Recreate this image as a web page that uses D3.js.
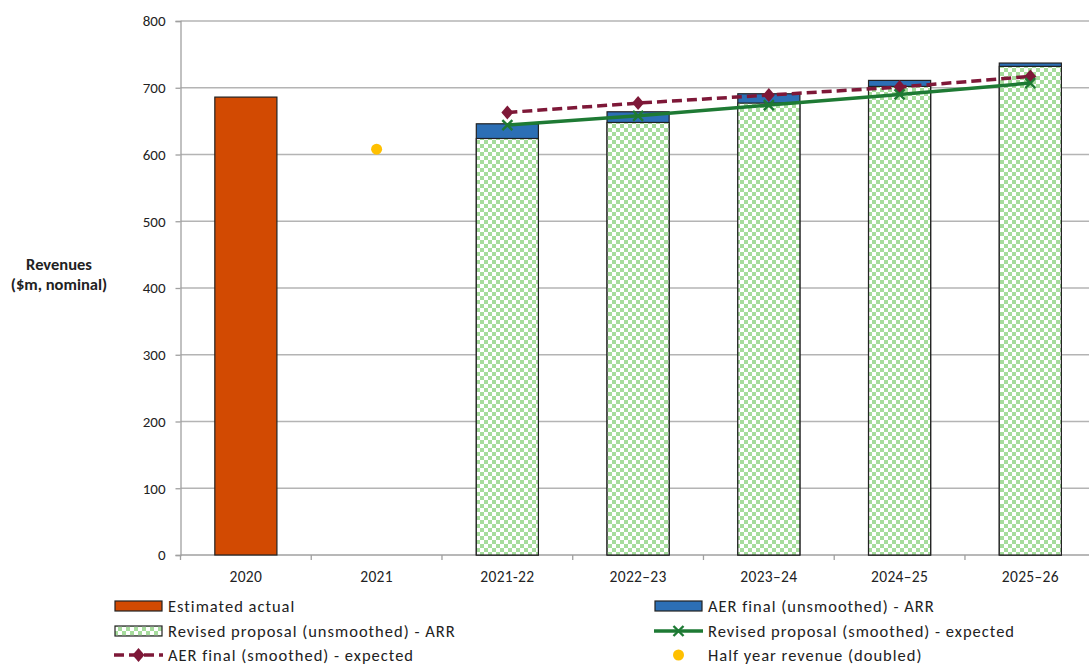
<!DOCTYPE html>
<html>
<head>
<meta charset="utf-8">
<script src="https://cdn.jsdelivr.net/npm/d3@7"></script>
<style>
  html, body { margin: 0; padding: 0; background: #fff; }
  svg { display: block; }
  text { font-family: Carlito, "Liberation Sans Narrow", "Open Sans", sans-serif; fill: #222; }
</style>
</head>
<body>
<svg id="chart" width="1089" height="664"></svg>
<script>
// Categories along the x axis
const categories = ["2020", "2021", "2021-22", "2022\u201323", "2023\u201324", "2024\u201325", "2025\u201326"];

// Estimated actual revenue ($m)
const estimatedActual = [686, null, null, null, null, null, null];
// Half year revenue, doubled
const halfYearDoubled = [null, 608, null, null, null, null, null];
// AER final (unsmoothed) ARR
const aerFinalArr = [null, null, 646, 664, 691, 711, 737];
// Revised proposal (unsmoothed) ARR
const revisedArr = [null, null, 624, 648, 677, 702, 732];
// Revised proposal (smoothed) expected revenue
const revisedSmoothed = [null, null, 644, 658, 674, 690, 707];
// AER final (smoothed) expected revenue
const aerSmoothed = [null, null, 663, 677, 689, 701, 717];

const yTicks = [0, 100, 200, 300, 400, 500, 600, 700, 800];

const colors = {
  actual: "#D24A02",
  aer: "#2C6FB5",
  revised: "#A6DC9C",
  revisedLine: "#1E7A34",
  aerLine: "#7E1838",
  half: "#FFC000",
  grid: "#B4B4B4",
  axis: "#A0A0A0"
};

const svg = d3.select("#chart");
const margin = { left: 180.5, top: 21, bottom: 555 };
const plotRight = 1095.7;

const x = d3.scaleBand().domain(categories).range([margin.left, plotRight]).padding(0);
const y = d3.scaleLinear().domain([0, 800]).range([margin.bottom, margin.top]);
const barW = x.bandwidth() * 0.475;
const cx = c => x(c) + x.bandwidth() / 2;

// marker shapes
const diamondPath = "M0,-7L6,0L0,7L-6,0Z";
const crossPath = "M-5,-5L5,5M-5,5L5,-5";

// checkerboard fill for the revised proposal bars
const defs = svg.append("defs");
const pat = defs.append("pattern")
  .attr("id", "checker").attr("patternUnits", "userSpaceOnUse")
  .attr("width", 8).attr("height", 8);
pat.append("rect").attr("width", 8).attr("height", 8).attr("fill", "#fff");
pat.append("rect").attr("width", 4).attr("height", 4).attr("fill", colors.revised);
pat.append("rect").attr("x", 4).attr("y", 4).attr("width", 4).attr("height", 4).attr("fill", colors.revised);

// gridlines
svg.append("g").selectAll("line").data(yTicks.filter(d => d > 0)).join("line")
  .attr("x1", margin.left).attr("x2", plotRight)
  .attr("y1", d => y(d)).attr("y2", d => y(d))
  .attr("stroke", colors.grid).attr("stroke-width", 1.3);

// y axis
const yAxis = svg.append("g").attr("transform", `translate(${margin.left},0)`)
  .call(d3.axisLeft(y).tickValues(yTicks).tickSize(5).tickPadding(10).tickFormat(d3.format("d")));
yAxis.select(".domain").attr("stroke", colors.axis).attr("stroke-width", 1.3);
yAxis.selectAll(".tick line").attr("stroke", colors.axis).attr("stroke-width", 1.3);
yAxis.selectAll("text").style("font-size", "15px").style("font-family", "Carlito, 'Liberation Sans', sans-serif").attr("fill", "#222");

// x axis with ticks at category boundaries
const xAxisG = svg.append("g");
xAxisG.append("line").attr("x1", margin.left).attr("x2", plotRight)
  .attr("y1", y(0)).attr("y2", y(0)).attr("stroke", colors.axis).attr("stroke-width", 1.3);
xAxisG.selectAll("line.tk").data(categories.concat(["__end"])).join("line").attr("class", "tk")
  .attr("x1", (d, i) => margin.left + i * x.step()).attr("x2", (d, i) => margin.left + i * x.step())
  .attr("y1", y(0)).attr("y2", y(0) + 5).attr("stroke", colors.axis).attr("stroke-width", 1.3);
xAxisG.selectAll("text").data(categories).join("text")
  .attr("x", d => cx(d)).attr("y", y(0) + 27).attr("text-anchor", "middle")
  .style("font-size", "15.5px").style("letter-spacing", "0.3px").text(d => d);

// estimated actual bar
svg.append("g").selectAll("rect").data(categories.map((c, i) => ({ c, v: estimatedActual[i] })).filter(d => d.v != null))
  .join("rect")
  .attr("x", d => cx(d.c) - barW / 2).attr("width", barW)
  .attr("y", d => y(d.v)).attr("height", d => y(0) - y(d.v))
  .attr("fill", colors.actual).attr("stroke", "#222").attr("stroke-width", 1.2);

// AER final ARR bars, with the revised proposal overlapped in front
const arrData = categories.map((c, i) => ({ c, aer: aerFinalArr[i], rev: revisedArr[i] })).filter(d => d.aer != null);
svg.append("g").selectAll("rect").data(arrData).join("rect")
  .attr("x", d => cx(d.c) - barW / 2).attr("width", barW)
  .attr("y", d => y(d.aer)).attr("height", d => y(0) - y(d.aer))
  .attr("fill", colors.aer).attr("stroke", "#222").attr("stroke-width", 1.2);
svg.append("g").selectAll("rect").data(arrData).join("rect")
  .attr("x", d => cx(d.c) - barW / 2).attr("width", barW)
  .attr("y", d => y(d.rev)).attr("height", d => y(0) - y(d.rev))
  .attr("fill", "url(#checker)").attr("stroke", "#222").attr("stroke-width", 1.2);

// half year point
svg.append("g").selectAll("circle").data(categories.map((c, i) => ({ c, v: halfYearDoubled[i] })).filter(d => d.v != null))
  .join("circle").attr("cx", d => cx(d.c)).attr("cy", d => y(d.v)).attr("r", 5.5).attr("fill", colors.half);

// smoothed lines
const line = d3.line().x(d => cx(d.c)).y(d => y(d.v));
const aerPts = categories.map((c, i) => ({ c, v: aerSmoothed[i] })).filter(d => d.v != null);
const revPts = categories.map((c, i) => ({ c, v: revisedSmoothed[i] })).filter(d => d.v != null);

svg.append("path").datum(aerPts).attr("d", line).attr("fill", "none")
  .attr("stroke", colors.aerLine).attr("stroke-width", 3.5).attr("stroke-dasharray", "10,5");
svg.append("g").selectAll("path").data(aerPts).join("path")
  .attr("d", diamondPath).attr("transform", d => `translate(${cx(d.c)},${y(d.v)})`)
  .attr("fill", colors.aerLine);

svg.append("path").datum(revPts).attr("d", line).attr("fill", "none")
  .attr("stroke", colors.revisedLine).attr("stroke-width", 3.5);
svg.append("g").selectAll("path").data(revPts).join("path")
  .attr("d", crossPath).attr("transform", d => `translate(${cx(d.c)},${y(d.v)})`)
  .attr("fill", "none").attr("stroke", colors.revisedLine).attr("stroke-width", 2.4);

// y axis title
const yt = svg.append("text").attr("text-anchor", "middle").style("font-size", "16.5px").style("font-weight", "bold");
yt.append("tspan").attr("x", 59).attr("y", 270).text("Revenues");
yt.append("tspan").attr("x", 59).attr("y", 290).text("($m, nominal)");

// legend
const legendItems = [
  { label: "Estimated actual", type: "bar", fill: colors.actual, col: 0, row: 0 },
  { label: "AER final (unsmoothed) - ARR", type: "bar", fill: colors.aer, col: 1, row: 0 },
  { label: "Revised proposal (unsmoothed) - ARR", type: "bar", fill: "url(#checker)", col: 0, row: 1 },
  { label: "Revised proposal (smoothed) - expected", type: "lineX", col: 1, row: 1 },
  { label: "AER final (smoothed) - expected", type: "lineD", col: 0, row: 2 },
  { label: "Half year revenue (doubled)", type: "dot", col: 1, row: 2 }
];
const colX = [114, 654];
const rowY = [606, 631, 655];
const lg = svg.append("g");
legendItems.forEach(it => {
  const g = lg.append("g").attr("transform", `translate(${colX[it.col]},${rowY[it.row]})`);
  if (it.type === "bar") {
    g.append("rect").attr("x", 1).attr("y", -5).attr("width", 47).attr("height", 10)
      .attr("fill", it.fill).attr("stroke", "#222").attr("stroke-width", 1.2);
  } else if (it.type === "lineX") {
    g.append("line").attr("x1", 0).attr("x2", 49).attr("stroke", colors.revisedLine).attr("stroke-width", 3.5);
    g.append("path").attr("d", crossPath).attr("transform", "translate(24.5,0)")
      .attr("fill", "none").attr("stroke", colors.revisedLine).attr("stroke-width", 2.4);
  } else if (it.type === "lineD") {
    g.append("line").attr("x1", 0).attr("x2", 49).attr("stroke", colors.aerLine).attr("stroke-width", 3.5)
      .attr("stroke-dasharray", "10,5");
    g.append("path").attr("d", diamondPath).attr("transform", "translate(24.5,0)")
      .attr("fill", colors.aerLine);
  } else {
    g.append("circle").attr("cx", 24.5).attr("cy", 0).attr("r", 5.5).attr("fill", colors.half);
  }
  g.append("text").attr("x", 54).attr("y", 5.5).style("font-size", "16.5px").style("letter-spacing", "1px").text(it.label);
});
</script>
</body>
</html>
